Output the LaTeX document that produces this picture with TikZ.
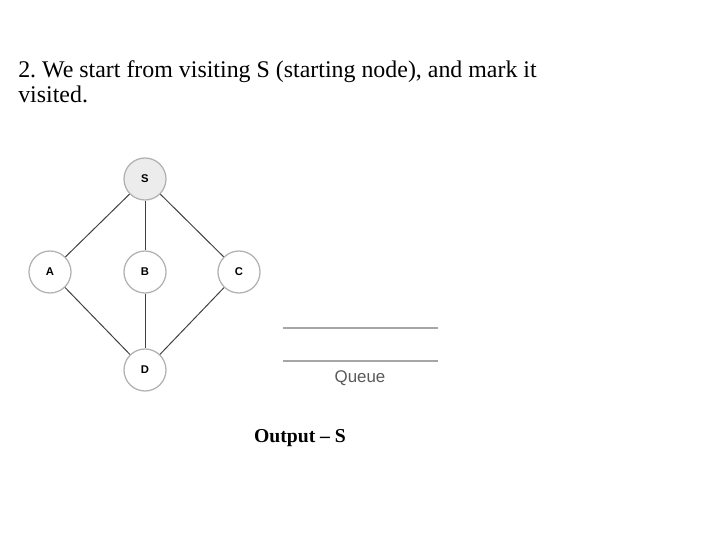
\documentclass[tikz,border=0pt]{standalone}
\usepackage{fontspec}
\setmainfont{Liberation Serif}
\setsansfont{Liberation Sans}
\usetikzlibrary{positioning}
\frenchspacing

\begin{document}
\begin{tikzpicture}[
  vertex/.style={draw=gray!60, line width=0.9pt, circle, fill=white,
              minimum size=10.5mm, inner sep=0pt,
              font=\sffamily\bfseries\fontsize{8}{9}\selectfont},
  start/.style={vertex, fill=gray!15},
  edge/.style={draw=black!75, line width=0.7pt},
  queueline/.style={draw=gray!70, line width=0.9pt},
]
  \useasboundingbox (0,0) rectangle (18,13.5);

  \node[anchor=base west, align=left, inner sep=0pt,
        font=\fontsize{17}{18.4}\selectfont]
    (title) at (0.45, 10.925)
    {2. We start from visiting S (starting node), and mark it\\visited.};

  \node[start] (s) at (3.625, 9.025) {S};
  \node[vertex] (a) at (1.25, 6.7) {A};
  \node[vertex] (b) at (3.625, 6.7) {B};
  \node[vertex] (c) at (5.975, 6.7) {C};
  \node[vertex] (d) at (3.625, 4.25) {D};

  \path[edge] (s) -- (a);
  \path[edge] (s) -- (b);
  \path[edge] (s) -- (c);
  \path[edge] (a) -- (d);
  \path[edge] (b) -- (d);
  \path[edge] (c) -- (d);

  % queue (empty)
  \coordinate (q1) at (7.075, 5.3);
  \coordinate (q2) at (10.95, 5.3);
  \coordinate (q3) at (7.075, 4.475);
  \coordinate (q4) at (10.95, 4.475);
  \path[queueline] (q1) -- (q2);
  \path[queueline] (q3) -- (q4);
  \node[font=\sffamily\fontsize{12}{14}\selectfont, text=black!65]
    (queue) at (9.0, 4.05) {Queue};

  \node[anchor=base, font=\bfseries\fontsize{14}{17}\selectfont]
    (output) at (7.5, 2.425) {Output -- S};
\end{tikzpicture}
\end{document}
